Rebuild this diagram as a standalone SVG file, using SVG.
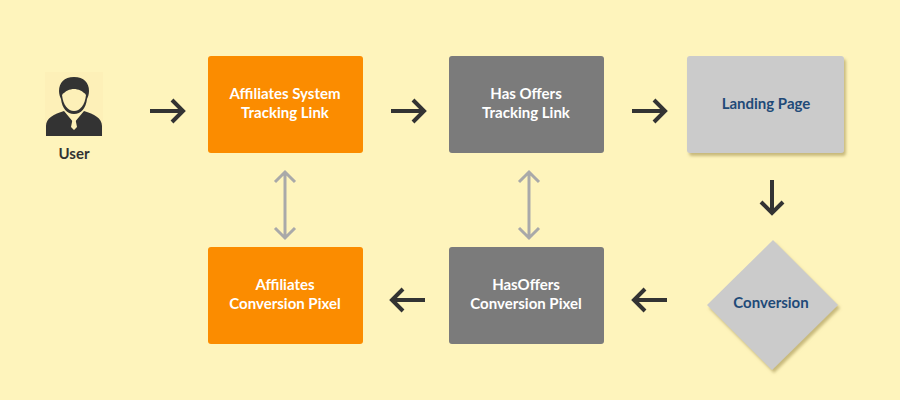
<svg xmlns="http://www.w3.org/2000/svg" width="900" height="400" viewBox="0 0 900 400">
<defs>
<style>
.t{font-family:Lato,"Open Sans",sans-serif;font-weight:bold;font-size:15px;text-anchor:middle}
.w{fill:#fff}.b{fill:#1f4a78}.k{fill:#333}
.a{stroke:#333;stroke-width:4;fill:none}
.d{stroke:#a9a9a9;stroke-width:3;fill:none}
</style>
<filter id="sh" x="-10%" y="-10%" width="130%" height="130%"><feDropShadow dx="2" dy="3" stdDeviation="1.5" flood-color="#b0a060" flood-opacity="0.7"/></filter>
</defs>
<rect width="900" height="400" fill="#fef4bc"/>
<g id="user">
<rect x="45" y="72" width="58" height="64" fill="#fdf0b8"/>
<path d="M74 77c-10 0-15 6-15 14 0 3 1 6 2 8 1 9 6 15 13 15s12-6 13-15c1-2 2-5 2-8 0-8-5-14-15-14z" fill="#333"/>
<path d="M62 95c1 10 6 16 12 16s11-6 12-16c-3-4-8-6-12-6s-9 2-12 6z" fill="#fdf0b8"/>
<path d="M46 136v-10c0-8 8-12 18-15l10 12 10-12c10 3 18 7 18 15v10z" fill="#333"/>
<path d="M72 114h4l-1 3 2 10-3 3-3-3 2-10z" fill="#fdf0b8"/>
<text class="t k" x="74" y="159">User</text>
</g>
<g id="ast"><rect x="208" y="56" width="155" height="97" rx="3" fill="#fb8c00"/><text class="t w" x="285" y="99">Affiliates System</text><text class="t w" x="285" y="118">Tracking Link</text></g>
<g id="hot"><rect x="449" y="56" width="155" height="97" rx="3" fill="#7b7b7b"/><text class="t w" x="526" y="99">Has Offers</text><text class="t w" x="526" y="118">Tracking Link</text></g>
<g id="lp"><rect x="687" y="56" width="157" height="97" rx="3" fill="#cbcbcb" filter="url(#sh)"/><text class="t b" x="766" y="109">Landing Page</text></g>
<g id="conv"><polygon points="773,240 838,305 772,370 707,305" fill="#cbcbcb" filter="url(#sh)"/><text class="t b" x="771" y="308">Conversion</text></g>
<g id="hcp"><rect x="449" y="247" width="155" height="97" rx="3" fill="#7b7b7b"/><text class="t w" x="526" y="290">HasOffers</text><text class="t w" x="526" y="309">Conversion Pixel</text></g>
<g id="acp"><rect x="208" y="247" width="155" height="97" rx="3" fill="#fb8c00"/><text class="t w" x="285" y="290">Affiliates</text><text class="t w" x="285" y="309">Conversion Pixel</text></g>
<g id="connectors">
<path class="a" d="M150 111h32M172 100l11 11-11 11"/>
<path class="a" d="M391 111h32M413 100l11 11-11 11"/>
<path class="a" d="M632 111h32M654 100l11 11-11 11"/>
<path class="a" d="M772 180v32M761 202l11 11 11-11"/>
<path class="a" d="M667 300h-32M645 289l-11 11 11 11"/>
<path class="a" d="M425 300h-32M403 289l-11 11 11 11"/>
<path class="d" d="M285 172v66M275 182l10-10 10 10M275 228l10 10 10-10"/>
<path class="d" d="M529 172v66M519 182l10-10 10 10M519 228l10 10 10-10"/>
</g>
</svg>
